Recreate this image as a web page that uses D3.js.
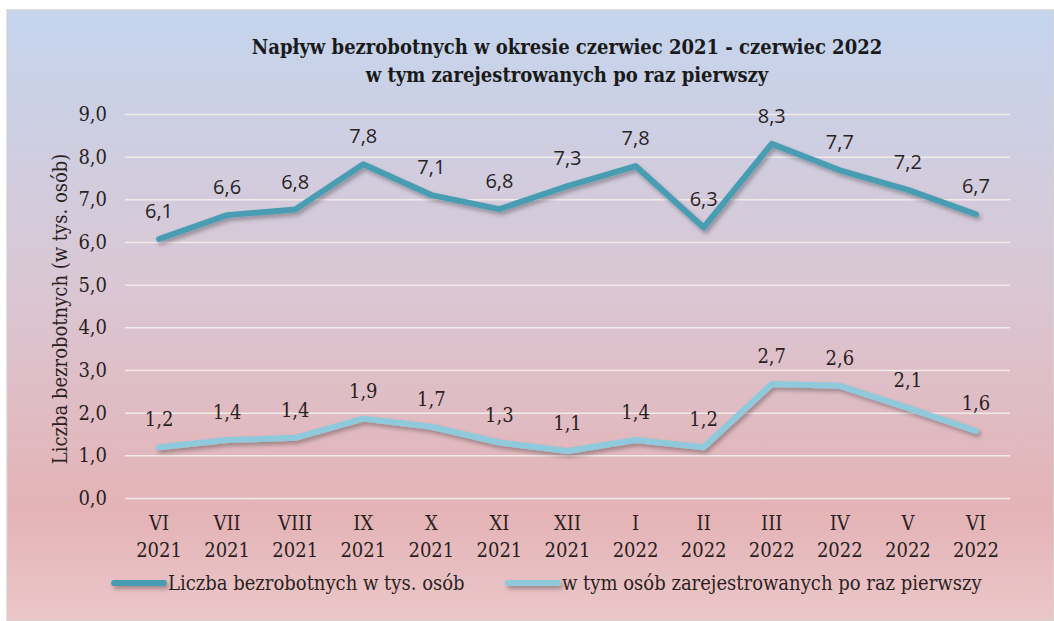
<!DOCTYPE html>
<html>
<head>
<meta charset="utf-8">
<script src="https://cdn.jsdelivr.net/npm/d3@7"></script>
<style>
  body { margin: 0; background: #ffffff; }
  svg { display: block; }
  .serif { font-family: "DejaVu Serif Condensed", "DejaVu Serif", serif; }
</style>
</head>
<body>
<svg id="chart"></svg>
<script>
// Months shown on the x axis (two lines: month / year)
var months = ["VI", "VII", "VIII", "IX", "X", "XI", "XII", "I", "II", "III", "IV", "V", "VI"]
var years = ["2021", "2021", "2021", "2021", "2021", "2021", "2021", "2022", "2022", "2022", "2022", "2022", "2022"]

// Series values (thousands of persons)
var totalUnemployed = [6.07, 6.63, 6.76, 7.82, 7.1, 6.77, 7.31, 7.78, 6.34, 8.3, 7.68, 7.22, 6.65]
var firstTimeRegistered = [1.19, 1.36, 1.41, 1.86, 1.67, 1.3, 1.1, 1.36, 1.19, 2.67, 2.63, 2.11, 1.57]

var seriesNames = ["Liczba bezrobotnych w tys. osób", "w tym osób zarejestrowanych po raz pierwszy"]
var yTicks = [0, 1, 2, 3, 4, 5, 6, 7, 8, 9]

// magic numbers for the layout
var vis = {
  "width": 1054,
  "height": 621,
  "plot": { "left": 125, "right": 1010, "top": 114, "bottom": 498 },
  "colors": { "total": "#4a9db2", "first": "#8ecadb", "text": "#2b1f1f" }
}

var fmt = function(v) { return d3.format(".1f")(v).replace(".", ",") }

function main() {
  var svg = d3.select("#chart")
    .attr("width", vis.width)
    .attr("height", vis.height)

  var defs = svg.append("defs")

  // background gradient: blue at the top, pink at the bottom
  var grad = defs.append("linearGradient")
    .attr("id", "bg")
    .attr("x1", 0).attr("y1", 0).attr("x2", 0).attr("y2", 1)
  grad.append("stop").attr("offset", "0%").attr("stop-color", "#c4d5ee")
  grad.append("stop").attr("offset", "45%").attr("stop-color", "#dac7d4")
  grad.append("stop").attr("offset", "82%").attr("stop-color", "#e4b3b6")
  grad.append("stop").attr("offset", "100%").attr("stop-color", "#ebc7c9")

  // soft shadow under the lines (user space so flat lines keep it)
  var shadow = defs.append("filter")
    .attr("id", "shadow")
    .attr("filterUnits", "userSpaceOnUse")
    .attr("x", 0).attr("y", 0).attr("width", vis.width).attr("height", vis.height)
  shadow.append("feDropShadow")
    .attr("dx", 2).attr("dy", 3).attr("stdDeviation", 2)
    .attr("flood-color", "#000").attr("flood-opacity", 0.3)

  svg.append("rect")
    .attr("x", 7).attr("y", 10)
    .attr("width", vis.width - 7).attr("height", vis.height - 10)
    .attr("fill", "url(#bg)")
    .attr("stroke", "#d4d4d4")
    .attr("stroke-width", 1.5)

  var p = vis.plot

  var xScale = d3.scaleBand()
    .domain(d3.range(months.length))
    .range([p.left, p.right])

  var yScale = d3.scaleLinear()
    .domain([0, 9])
    .range([p.bottom, p.top])

  var xc = function(i) { return xScale(i) + xScale.bandwidth() / 2 }

  // title
  var title = svg.append("text")
    .attr("class", "serif")
    .attr("text-anchor", "middle")
    .attr("font-weight", "bold")
    .attr("font-size", 20)
    .attr("fill", "#1a1a1a")
  title.append("tspan").attr("x", 567).attr("y", 54)
    .text("Napływ  bezrobotnych w okresie czerwiec  2021 - czerwiec  2022")
  title.append("tspan").attr("x", 567).attr("y", 82)
    .text("w tym zarejestrowanych po raz pierwszy")

  // y axis with grid lines
  var yAxis = svg.append("g")
    .attr("transform", "translate(" + p.left + ",0)")
    .call(d3.axisLeft(yScale).tickValues(yTicks).tickFormat(fmt).tickSize(0).tickPadding(18))
  yAxis.select(".domain").remove()
  yAxis.selectAll(".tick text")
    .attr("class", "serif")
    .attr("font-size", 20)
    .attr("fill", vis.colors.text)
  yAxis.selectAll(".tick").append("line")
    .attr("x1", 0).attr("x2", p.right - p.left)
    .attr("stroke", "#f3eaea")
    .attr("stroke-width", 1.5)

  svg.append("text")
    .attr("class", "serif")
    .attr("transform", "translate(67," + ((p.top + p.bottom) / 2 + 3) + ") rotate(-90)")
    .attr("text-anchor", "middle")
    .attr("font-size", 20)
    .attr("fill", vis.colors.text)
    .text("Liczba bezrobotnych (w tys. osób)")

  // x axis labels (month + year)
  var xLabels = svg.append("g").selectAll("text")
    .data(months)
    .enter()
    .append("text")
    .attr("class", "serif")
    .attr("text-anchor", "middle")
    .attr("font-size", 20)
    .attr("fill", vis.colors.text)
  xLabels.append("tspan")
    .attr("x", function(d, i) { return xc(i) })
    .attr("y", 530)
    .text(function(d) { return d })
  xLabels.append("tspan")
    .attr("x", function(d, i) { return xc(i) })
    .attr("y", 557)
    .text(function(d, i) { return years[i] })

  // lines
  var line = d3.line()
    .x(function(d, i) { return xc(i) })
    .y(function(d) { return yScale(d) })

  var series = [
    { "values": totalUnemployed, "color": vis.colors.total, "labelFont": "'Open Sans', 'Liberation Sans', sans-serif" },
    { "values": firstTimeRegistered, "color": vis.colors.first, "labelFont": "'DejaVu Serif Condensed', 'DejaVu Serif', serif" }
  ]

  series.forEach(function(s) {
    svg.append("path")
      .datum(s.values)
      .attr("d", line)
      .attr("fill", "none")
      .attr("stroke", s.color)
      .attr("stroke-width", 6)
      .attr("stroke-linejoin", "round")
      .attr("stroke-linecap", "round")
      .attr("filter", "url(#shadow)")

    svg.append("g").selectAll("text")
      .data(s.values)
      .enter()
      .append("text")
      .attr("x", function(d, i) { return xc(i) })
      .attr("y", function(d) { return yScale(d) - 21 })
      .attr("text-anchor", "middle")
      .attr("font-family", s.labelFont)
      .attr("font-size", 20)
      .attr("fill", vis.colors.text)
      .text(function(d) { return fmt(d) })
  })

  // legend
  var legend = svg.append("g")
  var legendX = [114, 508]
  seriesNames.forEach(function(name, i) {
    legend.append("line")
      .attr("x1", legendX[i]).attr("x2", legendX[i] + 50)
      .attr("y1", 583).attr("y2", 583)
      .attr("stroke", series[i].color)
      .attr("stroke-width", 6)
      .attr("stroke-linecap", "round")
      .attr("filter", "url(#shadow)")
    legend.append("text")
      .attr("class", "serif")
      .attr("x", legendX[i] + 54)
      .attr("y", 590)
      .attr("font-size", 20)
      .attr("fill", vis.colors.text)
      .text(name)
  })
}

main()
</script>
</body>
</html>
